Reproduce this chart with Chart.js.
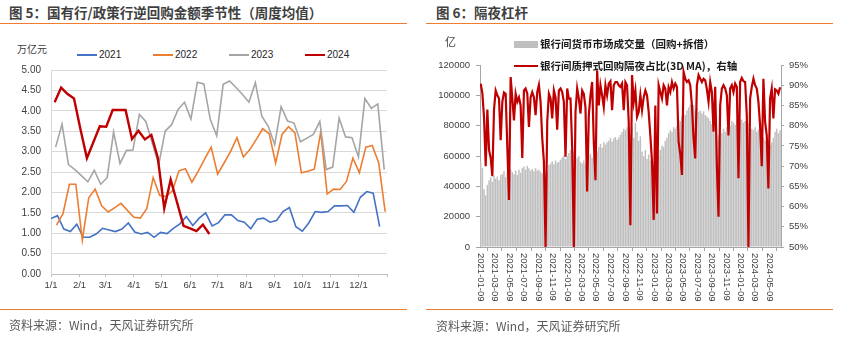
<!DOCTYPE html>
<html>
<head>
<meta charset="utf-8">
<script src="https://cdn.jsdelivr.net/npm/chart.js@4.4.1/dist/chart.umd.min.js"></script>
<style>
  html, body { margin: 0; padding: 0; background: #fff; }
  body { width: 850px; height: 337px; position: relative; overflow: hidden; }
  .t { position: absolute; white-space: nowrap; line-height: 1; }
  .title { font-family: "Noto Sans CJK SC", sans-serif; font-weight: bold; font-size: 13.5px; color: #3f3f3f; }
  .src { font-family: "Noto Sans CJK SC", sans-serif; font-size: 12px; color: #595959; }
  .rule { position: absolute; height: 0; border-top: 1.5px solid #ed7d31; }
  .lg { font-family: "Liberation Sans", Arial, sans-serif; font-size: 10px; color: #262626; }
  .lgc { font-family: "Noto Sans CJK SC", sans-serif; font-weight: bold; font-size: 10.5px; color: #1a1a1a; }
  .unit { font-family: "Noto Sans CJK SC", sans-serif; font-size: 10px; color: #404040; }
  .sw { position: absolute; }
  canvas { position: absolute; }
</style>
</head>
<body>
<!-- left panel -->
<div class="t title" style="left:9px;top:6px;">图 5：国有行/政策行逆回购金额季节性（周度均值）</div>
<div class="rule" style="left:0;top:23px;width:407px;"></div>
<div class="t unit" style="left:17px;top:44px;">万亿元</div>
<div class="sw" style="left:77px;top:54px;width:20px;height:1.6px;background:#4472c4;"></div>
<div class="t lg" style="left:99px;top:50px;">2021</div>
<div class="sw" style="left:153px;top:54px;width:20px;height:1.6px;background:#ed7d31;"></div>
<div class="t lg" style="left:175px;top:50px;">2022</div>
<div class="sw" style="left:229px;top:54px;width:20px;height:1.6px;background:#a5a5a5;"></div>
<div class="t lg" style="left:251px;top:50px;">2023</div>
<div class="sw" style="left:305px;top:53.5px;width:20px;height:2.5px;background:#c00000;"></div>
<div class="t lg" style="left:327px;top:50px;">2024</div>
<canvas id="seasonal" width="420" height="337" style="left:0;top:0;"></canvas>
<div class="rule" style="left:0;top:309px;width:407px;"></div>
<div class="t src" style="left:9px;top:319px;">资料来源：Wind，天风证券研究所</div>

<!-- right panel -->
<div class="t title" style="left:436px;top:6px;">图 6：隔夜杠杆</div>
<div class="rule" style="left:426px;top:23px;width:407px;"></div>
<canvas id="leverage" width="425" height="337" style="left:425px;top:0;"></canvas>
<div class="t unit" style="left:445px;top:36px;font-size:11px;">亿</div>
<div class="sw" style="left:514px;top:41px;width:24px;height:7px;background:#bfbfbf;"></div>
<div class="t lgc" style="left:540px;top:38.5px;">银行间货币市场成交量（回购+拆借）</div>
<div class="sw" style="left:514px;top:65px;width:24px;height:2px;background:#c00000;"></div>
<div class="t lgc" style="left:540px;top:60.5px;">银行间质押式回购隔夜占比(3D MA)，右轴</div>
<div class="rule" style="left:426px;top:309px;width:407px;"></div>
<div class="t src" style="left:436px;top:320px;">资料来源：Wind，天风证券研究所</div>

<script>
// ---------- 图5：国有行/政策行逆回购金额（周度均值，万亿元） ----------
const MONTH_LABELS = ['1/1','2/1','3/1','4/1','5/1','6/1','7/1','8/1','9/1','10/1','11/1','12/1'];
const Y2021 = [1.36,1.43,1.10,1.04,1.22,0.90,0.90,0.98,1.12,1.08,1.04,1.10,1.25,1.03,0.98,1.02,0.90,1.02,0.99,1.12,1.23,1.41,1.19,1.37,1.50,1.18,
               1.26,1.45,1.45,1.31,1.27,1.11,1.34,1.37,1.27,1.31,1.53,1.63,1.16,1.05,1.25,1.53,1.51,1.53,1.67,1.67,1.68,1.51,1.88,2.02,1.98,1.16];
const Y2022 = [1.20,1.48,2.20,2.20,0.83,1.87,2.08,1.67,1.52,1.62,1.73,1.56,1.39,1.37,1.60,2.36,1.93,1.90,2.04,2.53,2.58,2.25,2.52,2.82,3.11,2.45,
               2.72,3.00,3.34,2.87,3.05,3.30,3.56,3.44,2.72,3.42,3.61,3.46,2.48,2.52,2.57,3.48,1.96,2.08,2.07,2.27,2.84,2.48,3.11,3.15,2.72,1.53];
const Y2023 = [3.11,3.67,2.68,2.56,2.41,2.26,2.54,2.20,2.36,3.48,2.71,3.03,3.04,3.91,3.74,3.21,2.68,3.50,3.66,4.03,4.21,3.80,4.70,4.66,3.79,3.39,
               4.65,4.73,4.57,4.40,4.21,4.69,3.87,3.62,3.17,4.10,3.75,3.70,3.24,3.33,3.42,3.74,2.56,2.62,3.82,3.36,3.34,2.87,4.30,4.06,4.17,2.56];
const Y2024 = [4.21,4.57,4.41,4.30,3.55,2.84,3.23,3.62,3.61,4.02,4.02,4.02,3.31,3.51,3.30,3.41,2.85,1.61,2.31,1.75,1.18,1.12,1.05,1.21,0.98];

const DAY = 86400000;
const MONTH_DAYS = MONTH_LABELS.map((_, m) => (Date.UTC(2021, m, 1) - Date.UTC(2021, 0, 1)) / DAY);

// weekly observations fall on Fridays; x = day of year
function firstFriday(year) {
  const dow = new Date(Date.UTC(year, 0, 1)).getUTCDay();
  return (5 - dow + 7) % 7;
}
function weekly(year, values) {
  const f = firstFriday(year);
  return values.map((v, i) => ({ x: f + 7 * i, y: v }));
}

Chart.defaults.font.family = '"Liberation Sans", Arial, sans-serif';
Chart.defaults.color = '#404040';

const lineStyle = (color, width) => ({
  borderColor: color, backgroundColor: color, borderWidth: width,
  pointRadius: 0, tension: 0, fill: false
});

new Chart(document.getElementById('seasonal'), {
  type: 'line',
  data: {
    datasets: [
      { label: '2021', data: weekly(2021, Y2021), order: 4, ...lineStyle('#4472c4', 1.6) },
      { label: '2022', data: weekly(2022, Y2022), order: 3, ...lineStyle('#ed7d31', 1.6) },
      { label: '2023', data: weekly(2023, Y2023), order: 2, ...lineStyle('#a5a5a5', 1.6) },
      { label: '2024', data: weekly(2024, Y2024), order: 1, ...lineStyle('#c00000', 2.4) }
    ]
  },
  options: {
    responsive: false, animation: false,
    layout: { padding: { left: 0, right: 33, top: 70, bottom: 0 } },
    plugins: { legend: { display: false }, tooltip: { enabled: false } },
    scales: {
      x: {
        type: 'linear', min: 0, max: 365,
        afterBuildTicks: s => { s.ticks = MONTH_DAYS.concat([365]).map(v => ({ value: v })); },
        afterFit: s => { s.height = 63; },
        grid: { drawOnChartArea: false, drawTicks: true, tickLength: 3, color: '#bfbfbf' },
        border: { color: '#bfbfbf' },
        ticks: {
          autoSkip: false, maxRotation: 0, minRotation: 0, padding: 3,
          font: { size: 9.5 }, color: '#404040',
          callback: v => { const i = MONTH_DAYS.indexOf(v); return i >= 0 ? MONTH_LABELS[i] : ''; }
        }
      },
      y: {
        min: 0, max: 5,
        afterFit: s => { s.width = 51; },
        grid: { color: '#d9d9d9', drawTicks: false },
        border: { color: '#d9d9d9' },
        ticks: { stepSize: 0.5, padding: 10, font: { size: 10 }, color: '#404040', callback: v => v.toFixed(2) }
      }
    }
  }
});

// ---------- 图6：隔夜杠杆 ----------
const START_DATE = '2021-01-09';
const TICK_DATES = ['2021-01-09','2021-03-09','2021-05-09','2021-07-09','2021-09-09','2021-11-09',
                    '2022-01-09','2022-03-09','2022-05-09','2022-07-09','2022-09-09','2022-11-09',
                    '2023-01-09','2023-03-09','2023-05-09','2023-07-09','2023-09-09','2023-11-09',
                    '2024-01-09','2024-03-09','2024-05-09'];
// 银行间货币市场成交量（回购+拆借），亿元，周频
const VOLUME = [
  56000,52000,38000,34000,41000,44000,46000,43000,47000,45000,
  46500,44000,47500,48000,50000,46000,49000,47000,51000,49500,
  48000,50500,47500,51000,49000,52000,53000,51000,53500,52000,
  50500,51500,50000,52000,50500,51000,49500,48500,47000,46000,
  49000,54000,55000,56500,54500,57000,55500,56000,57500,59000,
  60500,58000,60000,62000,64000,60000,63000,61000,58500,60000,
  56000,55000,57000,54500,56000,60000,61500,59000,62000,60500,
  63000,66000,68000,65500,69000,67500,69000,70000,72000,69500,
  71500,72500,70500,72000,74000,76000,78000,77000,79000,77500,
  74000,79000,72000,82000,76000,70000,73000,63000,60000,64000,
  58000,61000,57000,55000,54000,57000,56000,60000,64000,67000,
  66000,70000,72000,75000,77000,76000,79000,78000,80000,84000,
  83000,86000,88000,87000,90000,92000,94000,91000,93500,90000,
  92000,89000,90000,88000,89500,87000,86000,85000,83000,81000,
  79000,76000,72000,74000,71000,75000,78000,76000,79000,81000,
  80000,83000,82000,80500,84000,82000,83500,84000,82000,83000,
  80000,81500,79000,78000,77000,79000,76000,77500,75000,76000,
  72000,70000,68000,71000,67000,69000,72000,76000,78000,75000,
  77000
];
// 银行间质押式回购隔夜占比(3D MA)，%，周频
const OVERNIGHT = [
  90.4,88.0,82.0,70.0,84.0,74.0,72.0,67.5,84.0,88.7,
  87.5,86.7,76.4,85.9,88.2,87.9,74.8,61.6,92.0,86.7,
  81.3,87.9,85.9,87.0,85.0,72.0,88.7,89.2,87.9,79.7,
  87.0,88.3,87.0,82.6,88.3,90.1,85.9,76.8,71.1,50.0,
  81.0,87.9,86.7,81.8,88.7,87.0,79.0,88.7,89.2,88.3,
  85.9,72.3,89.2,86.7,86.7,74.4,50.0,83.4,89.2,86.7,
  83.0,88.7,87.9,84.5,63.7,82.6,87.5,90.8,76.0,66.5,
  93.7,85.0,90.0,87.5,84.6,90.0,87.5,90.4,91.0,83.8,
  90.0,90.8,90.8,90.0,89.6,90.4,83.8,90.8,90.0,81.0,
  55.4,92.5,85.9,88.7,82.2,83.4,87.5,83.8,87.0,88.7,
  87.5,83.4,77.6,71.1,56.7,85.0,58.3,90.0,88.3,86.7,
  90.0,89.2,85.0,89.5,88.3,90.8,89.2,90.4,89.6,76.0,
  73.0,67.8,93.3,91.6,90.8,91.2,90.0,85.0,76.8,71.9,
  90.0,92.5,91.6,90.8,91.6,91.2,89.0,85.9,90.8,88.3,
  78.5,89.6,70.2,57.5,85.0,89.2,90.0,89.2,87.5,77.6,
  89.2,90.0,88.3,90.4,89.6,67.0,90.8,91.8,91.0,90.8,
  82.6,50.0,86.7,89.6,91.6,90.0,89.2,85.9,80.0,70.0,
  91.6,81.0,77.6,64.5,86.7,89.2,81.8,89.0,88.7,87.9,
  89.5
];

const t0 = Date.parse(START_DATE);
const TICK_DAYS = TICK_DATES.map(d => (Date.parse(d) - t0) / DAY);
const volumePts = VOLUME.map((v, i) => ({ x: 7 * i, y: v }));
const overnightPts = OVERNIGHT.map((v, i) => ({ x: 7 * i, y: v }));

// date labels read top-to-bottom under each tick
const verticalDateLabels = {
  id: 'verticalDateLabels',
  afterDraw(chart) {
    const s = chart.scales.x, ctx = chart.ctx;
    ctx.save();
    ctx.font = '9.5px "Liberation Sans", Arial, sans-serif';
    ctx.fillStyle = '#404040';
    ctx.textAlign = 'left';
    ctx.textBaseline = 'middle';
    TICK_DATES.forEach((d, i) => {
      const px = s.getPixelForValue(TICK_DAYS[i]);
      ctx.save();
      ctx.translate(px, s.top + 6);
      ctx.rotate(Math.PI / 2);
      ctx.fillText(d, 0, 0);
      ctx.restore();
    });
    ctx.restore();
  }
};

const axisGray = '#a6a6a6';
new Chart(document.getElementById('leverage'), {
  type: 'bar',
  data: {
    datasets: [
      {
        type: 'line', label: '银行间质押式回购隔夜占比(3D MA)，右轴', data: overnightPts, yAxisID: 'y2', order: 1,
        borderColor: '#c00000', backgroundColor: '#c00000', borderWidth: 2.2, pointRadius: 0, tension: 0
      },
      {
        type: 'bar', label: '银行间货币市场成交量（回购+拆借）', data: volumePts, yAxisID: 'y', order: 2,
        backgroundColor: '#bfbfbf', borderWidth: 0, barPercentage: 0.88, categoryPercentage: 1, grouped: false
      }
    ]
  },
  options: {
    responsive: false, animation: false,
    layout: { padding: { left: 0, right: 0, top: 65, bottom: 0 } },
    plugins: { legend: { display: false }, tooltip: { enabled: false } },
    scales: {
      x: {
        type: 'linear', min: -3, max: 1264, offset: false,
        afterBuildTicks: s => { s.ticks = TICK_DAYS.map(v => ({ value: v })); },
        afterFit: s => { s.height = 90; },
        grid: { drawOnChartArea: false, drawTicks: true, tickLength: 4, color: axisGray },
        border: { color: axisGray },
        ticks: { autoSkip: false, maxRotation: 0, callback: () => '' }
      },
      y: {
        position: 'left', min: 0, max: 120000,
        afterFit: s => { s.width = 55; },
        grid: { drawOnChartArea: false, drawTicks: true, tickLength: 4, color: axisGray },
        border: { color: axisGray },
        ticks: { stepSize: 20000, padding: 6, font: { size: 9.5 }, color: '#404040', callback: v => String(v) }
      },
      y2: {
        position: 'right', min: 50, max: 95,
        afterFit: s => { s.width = 69; },
        grid: { drawOnChartArea: false, drawTicks: true, tickLength: 3, color: axisGray },
        border: { color: axisGray },
        ticks: { stepSize: 5, padding: 5, font: { size: 9.5 }, color: '#404040', callback: v => v + '%' }
      }
    }
  },
  plugins: [verticalDateLabels]
});
</script>
</body>
</html>
